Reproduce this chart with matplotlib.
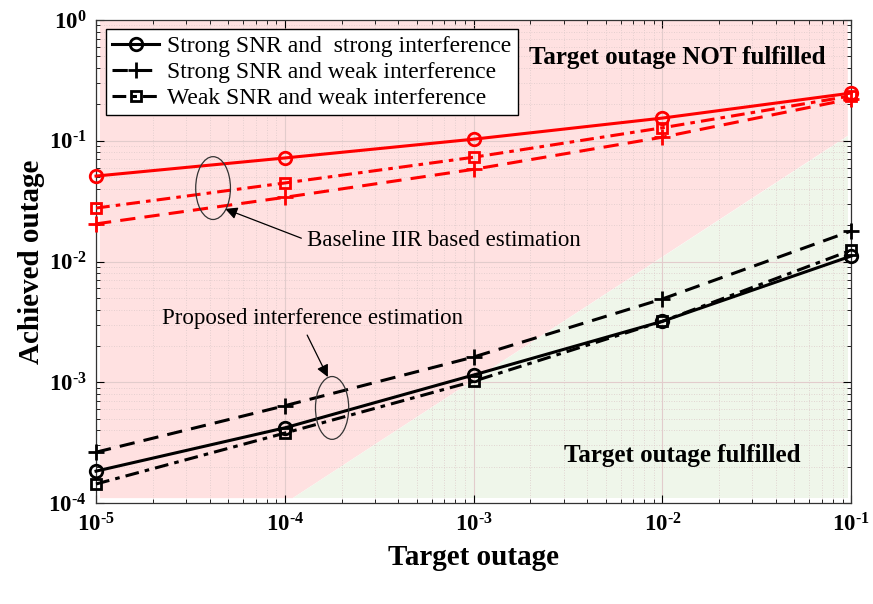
import numpy as np
import matplotlib
matplotlib.use("Agg")
import matplotlib.pyplot as plt
from matplotlib.patches import Ellipse
from matplotlib.ticker import LogLocator, NullFormatter, FixedLocator

plt.rcParams['font.family'] = ['Liberation Serif', 'DejaVu Serif']
plt.rcParams['mathtext.fontset'] = 'custom'
plt.rcParams['mathtext.rm'] = 'Liberation Serif:bold'
plt.rcParams['mathtext.it'] = 'Liberation Serif:bold'
plt.rcParams['mathtext.bf'] = 'Liberation Serif:bold'

# target outage (x axis)
target = [1e-5, 1e-4, 1e-3, 1e-2, 1e-1]
x_ticklabels = [r'$10^{\text{-}5}$', r'$10^{\text{-}4}$', r'$10^{\text{-}3}$',
                r'$10^{\text{-}2}$', r'$10^{\text{-}1}$']
y_ticks = [1e-4, 1e-3, 1e-2, 1e-1, 1e0]
y_ticklabels = [r'$10^{\text{-}4}$', r'$10^{\text{-}3}$', r'$10^{\text{-}2}$',
                r'$10^{\text{-}1}$', r'$10^{0}$']

# proposed interference estimation (black)
prop_strong_strong = [1.84e-4, 4.2e-4, 1.15e-3, 3.2e-3, 1.11e-2]
prop_strong_weak = [2.64e-4, 6.4e-4, 1.62e-3, 4.9e-3, 1.79e-2]
prop_weak_weak = [1.44e-4, 3.8e-4, 1.02e-3, 3.2e-3, 1.24e-2]

# baseline IIR based estimation (red)
base_strong_strong = [0.051, 0.072, 0.103, 0.154, 0.248]
base_strong_weak = [0.0205, 0.034, 0.058, 0.107, 0.222]
base_weak_weak = [0.0277, 0.0447, 0.073, 0.128, 0.235]

labels = ['Strong SNR and  strong interference',
          'Strong SNR and weak interference',
          'Weak SNR and weak interference']

fig = plt.figure(figsize=(8.73, 6.04), dpi=100)
ax = fig.add_axes([0.110, 0.167, 0.865, 0.800])
ax.set_xscale('log')
ax.set_yscale('log')
ax.set_xlim(1e-5, 1e-1)
ax.set_ylim(1e-4, 1e0)

# background regions
pink = '#ffe1e1'
green = '#eff6ea'
xlo, xhi, ylo = 1.05e-5, 0.096, 1.1e-4
ax.fill([xlo, ylo, xhi, xhi, xlo], [ylo, ylo, 0.11, 1.0, 1.0], color=pink, lw=0, zorder=0)
ax.fill([ylo, xhi, xhi], [ylo, ylo, 0.11], color=green, lw=0, zorder=0)

ax.grid(True, which='major', color='#e2cccc', lw=0.8, ls='-', zorder=1)
ax.grid(True, which='minor', color='#dccaca', lw=0.6, ls=(0, (1, 2)), zorder=1)
ax.set_axisbelow(True)

lw = 2.2
ms = 9
styles = [('-', 'o'), ((0, (5, 3)), '+'), ((0, (4.5, 2, 1.5, 2)), 's')]
black_sets = [prop_strong_strong, prop_strong_weak, prop_weak_weak]
red_sets = [base_strong_strong, base_strong_weak, base_weak_weak]
for (ls, mk), yb, yr, lab in zip(styles, black_sets, red_sets, labels):
    msz = ms + 3 if mk == '+' else (ms - 2 if mk == 's' else ms)
    ax.plot(target, yb, color='black', ls=ls, lw=lw, marker=mk, ms=msz,
            mfc='none', mew=2, label=lab, zorder=3, clip_on=False)
    ax.plot(target, yr, color='red', ls=ls, lw=lw, marker=mk, ms=msz,
            mfc='none', mew=2, zorder=3, clip_on=False)

ax.xaxis.set_major_locator(FixedLocator(target))
ax.set_xticklabels(x_ticklabels)
ax.yaxis.set_major_locator(FixedLocator(y_ticks))
ax.set_yticklabels(y_ticklabels)
for axis in (ax.xaxis, ax.yaxis):
    axis.set_minor_locator(LogLocator(base=10, subs=np.arange(2, 10), numticks=20))
    axis.set_minor_formatter(NullFormatter())
ax.tick_params(which='both', direction='in', top=True, right=True, labelsize=16.5, pad=7)
ax.tick_params(which='major', length=6, width=0.8)
ax.tick_params(which='minor', length=3, width=0.6)
for s in ax.spines.values():
    s.set_color('#333333')
    s.set_linewidth(0.9)

ax.set_xlabel('Target outage', fontsize=21, fontweight='bold', labelpad=6)
ax.set_ylabel('Achieved outage', fontsize=21, fontweight='bold', labelpad=2)

leg = ax.legend(loc='upper left', bbox_to_anchor=(0.007, 0.99), fontsize=17,
                frameon=True, fancybox=False, framealpha=1, edgecolor='black',
                handlelength=2.0, handletextpad=0.35, borderpad=0.25, labelspacing=0.2,
                borderaxespad=0.2)
leg.get_frame().set_linewidth(1.0)

ax.text(0.77, 0.923, 'Target outage NOT fulfilled', transform=ax.transAxes,
        fontsize=18, fontweight='bold', ha='center', va='center')
ax.text(0.776, 0.099, 'Target outage fulfilled', transform=ax.transAxes,
        fontsize=18, fontweight='bold', ha='center', va='center')

# annotations
ax.add_patch(Ellipse((0.155, 0.652), 0.046, 0.130, transform=ax.transAxes,
                     fill=False, ec='#333333', lw=0.9, zorder=4))
ax.add_patch(Ellipse((0.3126, 0.197), 0.044, 0.130, transform=ax.transAxes,
                     fill=False, ec='#333333', lw=0.9, zorder=4))
ax.annotate('Baseline IIR based estimation', xy=(0.171, 0.609), xytext=(0.279, 0.544),
            xycoords='axes fraction', textcoords='axes fraction', fontsize=16.5,
            ha='left', va='center',
            arrowprops=dict(arrowstyle='-|>', color='black', lw=0.9, mutation_scale=18,
                            shrinkA=2, shrinkB=0, relpos=(0, 0.5)))
ax.annotate('Proposed interference estimation', xy=(0.307, 0.261), xytext=(0.088, 0.383),
            xycoords='axes fraction', textcoords='axes fraction', fontsize=16.5,
            ha='left', va='center',
            arrowprops=dict(arrowstyle='-|>', color='black', lw=0.9, mutation_scale=18,
                            shrinkA=3, shrinkB=0, relpos=(0.47, 0)))

fig.savefig('out.png', dpi=100)
